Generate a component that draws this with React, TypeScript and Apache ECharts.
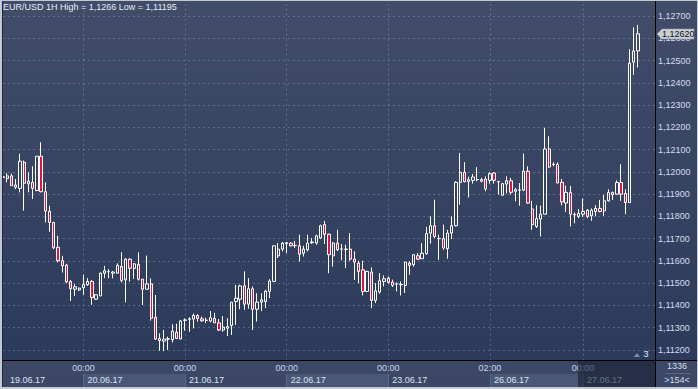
import React, { useEffect, useRef } from 'react';
import * as echarts from 'echarts';

// trading days: [date label, first hour, last hour]
const DAYS: [string, number, number][] = [
  ['19.06.17', 5, 23],
  ['20.06.17', 0, 23],
  ['21.06.17', 0, 23],
  ['22.06.17', 0, 23],
  ['23.06.17', 0, 23],
  ['26.06.17', 2, 23],
  ['27.06.17', 0, 13],
];
const EMPTY_SLOTS = 4; // chart shift on the right

const OPEN = [
  1.11978, 1.1197, 1.11982, 1.11931, 1.11926, 1.12043, 1.11946, 1.11953, 1.11916, 1.1207,
  1.11911, 1.11823, 1.11773, 1.11661, 1.11601, 1.11581, 1.11508, 1.11473, 1.1147, 1.1148,
  1.11493, 1.11508, 1.11428, 1.11443, 1.11545, 1.11552, 1.11545, 1.11545, 1.11575, 1.11515,
  1.11608, 1.11567, 1.11585, 1.11518, 1.11473, 1.11497, 1.11347, 1.11252, 1.1124, 1.11249,
  1.11247, 1.1128, 1.11249, 1.11333, 1.11338, 1.11339, 1.11355, 1.1134, 1.11333, 1.1133,
  1.11342, 1.11322, 1.1129, 1.11298, 1.1131, 1.11418, 1.11428, 1.11488, 1.11406, 1.11475,
  1.11383, 1.11415, 1.11418, 1.11463, 1.11508, 1.11623, 1.11653, 1.11678, 1.1168, 1.11669,
  1.11668, 1.11635, 1.1165, 1.11682, 1.1168, 1.11703, 1.11763, 1.1172, 1.11623, 1.1168,
  1.11653, 1.11653, 1.11653, 1.11608, 1.1159, 1.1156, 1.11463, 1.1155, 1.11423, 1.1146,
  1.11508, 1.11523, 1.11505, 1.11496, 1.11493, 1.1149, 1.1159, 1.11583, 1.11623, 1.1161,
  1.11633, 1.11725, 1.11758, 1.117, 1.117, 1.11655, 1.11725, 1.11758, 1.11953, 1.11998,
  1.11956, 1.11962, 1.11965, 1.11965, 1.11968, 1.11962, 1.11995, 1.11955, 1.11895, 1.11945,
  1.1196, 1.11913, 1.11918, 1.11918, 1.12003, 1.11833, 1.11755, 1.11788, 1.1181, 1.12103,
  1.12033, 1.12033, 1.11953, 1.1186, 1.11907, 1.11807, 1.118, 1.1181, 1.11828, 1.11803,
  1.11822, 1.11836, 1.11825, 1.1187, 1.11907, 1.119, 1.11952, 1.11903, 1.11862, 1.12493,
  1.12543,
];
const HIGH = [
  1.11985, 1.11994, 1.11992, 1.11968, 1.12081, 1.12051, 1.11998, 1.12025, 1.1207, 1.12133,
  1.11953, 1.11848, 1.11776, 1.11713, 1.11623, 1.11587, 1.11515, 1.11496, 1.1148, 1.11538,
  1.11523, 1.11515, 1.11451, 1.11548, 1.11578, 1.11563, 1.11555, 1.11589, 1.11639, 1.11612,
  1.11612, 1.1159, 1.11639, 1.11518, 1.11624, 1.11522, 1.11447, 1.11275, 1.1129, 1.1126,
  1.11315, 1.11318, 1.11335, 1.11342, 1.11347, 1.11364, 1.11361, 1.1135, 1.11345, 1.11375,
  1.11367, 1.11339, 1.11352, 1.11343, 1.11415, 1.11493, 1.11493, 1.11553, 1.11523, 1.11485,
  1.11455, 1.11455, 1.1147, 1.11518, 1.11668, 1.1168, 1.11685, 1.11685, 1.11685, 1.1169,
  1.11718, 1.11668, 1.11718, 1.11703, 1.11718, 1.11763, 1.1178, 1.11722, 1.11685, 1.1174,
  1.11676, 1.11673, 1.11725, 1.11643, 1.11601, 1.11601, 1.11556, 1.11571, 1.115, 1.11545,
  1.11535, 1.1153, 1.11516, 1.11503, 1.11508, 1.11595, 1.11598, 1.11628, 1.11635, 1.1168,
  1.11753, 1.118, 1.11875, 1.11718, 1.11763, 1.1174, 1.118, 1.11958, 1.12085, 1.12043,
  1.11978, 1.1199, 1.12021, 1.11973, 1.1198, 1.11998, 1.11998, 1.1196, 1.1195, 1.1198,
  1.11973, 1.11928, 1.1195, 1.12082, 1.12025, 1.1187, 1.1185, 1.11848, 1.12198, 1.1216,
  1.12043, 1.12043, 1.11968, 1.11938, 1.11937, 1.11818, 1.11833, 1.1188, 1.11833, 1.11836,
  1.1185, 1.11874, 1.11897, 1.11922, 1.11912, 1.11962, 1.12034, 1.11922, 1.12551, 1.12649,
  1.1266,
];
const LOW = [
  1.11972, 1.11953, 1.11938, 1.11923, 1.11908, 1.11826, 1.11908, 1.11878, 1.11913, 1.11908,
  1.11773, 1.11731, 1.11653, 1.11593, 1.11548, 1.115, 1.1142, 1.11443, 1.11465, 1.11448,
  1.11488, 1.11403, 1.11425, 1.11443, 1.11523, 1.11522, 1.11522, 1.11545, 1.11503, 1.11414,
  1.11507, 1.11519, 1.11512, 1.11402, 1.11473, 1.11332, 1.11245, 1.11197, 1.11195, 1.112,
  1.11234, 1.11249, 1.11249, 1.11287, 1.11282, 1.11297, 1.11327, 1.11327, 1.11321, 1.11324,
  1.11322, 1.11285, 1.11282, 1.11263, 1.11268, 1.11313, 1.11383, 1.1138, 1.11385, 1.1129,
  1.11328, 1.11375, 1.11388, 1.11433, 1.11508, 1.11613, 1.11643, 1.11635, 1.11665, 1.11658,
  1.11598, 1.1162, 1.11643, 1.11676, 1.11673, 1.11698, 1.11676, 1.11545, 1.11575, 1.11645,
  1.11603, 1.11568, 1.11601, 1.11515, 1.115, 1.11445, 1.1146, 1.11388, 1.11411, 1.11453,
  1.11486, 1.11498, 1.11483, 1.11463, 1.11445, 1.11456, 1.11538, 1.11575, 1.11605, 1.1161,
  1.11628, 1.11678, 1.11703, 1.11605, 1.1165, 1.1161, 1.11698, 1.11755, 1.11853, 1.11953,
  1.11885, 1.11947, 1.11958, 1.11953, 1.11913, 1.11947, 1.11947, 1.11898, 1.11893, 1.11902,
  1.11898, 1.11868, 1.11848, 1.11913, 1.11857, 1.1174, 1.11748, 1.1171, 1.1181, 1.12018,
  1.12025, 1.1195, 1.1185, 1.1182, 1.11755, 1.11769, 1.11792, 1.11798, 1.11792, 1.1178,
  1.118, 1.11818, 1.11803, 1.11867, 1.11874, 1.11897, 1.1187, 1.1181, 1.11862, 1.12436,
  1.12469,
];
const CLOSE = [
  1.11975, 1.11982, 1.11938, 1.11941, 1.12048, 1.11949, 1.11958, 1.11926, 1.1207, 1.11911,
  1.11824, 1.11773, 1.11659, 1.11601, 1.11578, 1.11506, 1.11476, 1.11484, 1.11478, 1.11495,
  1.11508, 1.11436, 1.11448, 1.11545, 1.11556, 1.11552, 1.1155, 1.1158, 1.11512, 1.11608,
  1.11567, 1.11587, 1.11518, 1.11473, 1.11497, 1.11342, 1.11249, 1.11242, 1.11249, 1.1125,
  1.11285, 1.11252, 1.1133, 1.11335, 1.1134, 1.11355, 1.11342, 1.11331, 1.11334, 1.11345,
  1.11322, 1.1129, 1.11303, 1.11305, 1.11415, 1.11433, 1.11488, 1.11406, 1.11475, 1.11383,
  1.11415, 1.11425, 1.11465, 1.1151, 1.11668, 1.11653, 1.1168, 1.11682, 1.11668, 1.1167,
  1.1163, 1.11653, 1.1168, 1.11685, 1.11713, 1.11758, 1.1172, 1.11628, 1.1168, 1.1165,
  1.11654, 1.11652, 1.11608, 1.11595, 1.11553, 1.11463, 1.11553, 1.11423, 1.11466, 1.11511,
  1.1152, 1.11504, 1.1149, 1.11497, 1.11495, 1.11595, 1.1158, 1.11628, 1.11608, 1.11635,
  1.11723, 1.11758, 1.1171, 1.11701, 1.11658, 1.11725, 1.11758, 1.11953, 1.11998, 1.11956,
  1.11965, 1.11977, 1.11966, 1.11958, 1.11923, 1.11992, 1.11962, 1.11956, 1.11947, 1.1196,
  1.11908, 1.1192, 1.11919, 1.12003, 1.1186, 1.11763, 1.1179, 1.1181, 1.12103, 1.12022,
  1.12034, 1.1195, 1.11865, 1.11908, 1.1181, 1.11808, 1.11813, 1.11822, 1.118, 1.11828,
  1.11836, 1.11822, 1.1187, 1.11907, 1.11897, 1.11952, 1.119, 1.11862, 1.12488, 1.12543,
  1.1262,
];

const Y_MIN = 1.111;
const Y_MAX = 1.128;
const Y_STEP = 0.001;

const FONT = '"Liberation Sans", Arial, sans-serif';

function buildCategories() {
  const cats: string[] = [];
  const dayStarts: number[] = [];
  DAYS.forEach(([d, h0, h1]) => {
    dayStarts.push(cats.length);
    for (let h = h0; h <= h1; h++) {
      cats.push(`${d} ${String(h).padStart(2, '0')}:00`);
    }
  });
  for (let i = 0; i < EMPTY_SLOTS; i++) cats.push('');
  return { cats, dayStarts };
}

const fmtPrice = (v: number) => String(parseFloat(v.toFixed(5))).replace('.', ',');

export default function App() {
  const ref = useRef<HTMLDivElement>(null);

  useEffect(() => {
    const el = ref.current!;
    const chart = echarts.init(el, null, { renderer: 'svg' });
    const { cats, dayStarts } = buildCategories();
    const startSet = new Set(dayStarts);
    const timeSet = new Set(dayStarts.slice(1));
    const hi = Math.max(...HIGH);
    const lo = Math.min(...LOW);
    const gridColor = 'rgba(140,155,185,0.45)';

    const option: any = {
      animation: false,
      backgroundColor: new echarts.graphic.LinearGradient(0, 0, 0, 1, [
        { offset: 0, color: '#414d69' },
        { offset: 0.93, color: '#2c3a5b' },
        { offset: 1, color: '#2c3a5b' },
      ]),
      title: {
        text: `EUR/USD 1H High = ${fmtPrice(hi)} Low = ${fmtPrice(lo)}`,
        left: 3,
        top: 2,
        padding: 0,
        textStyle: { color: '#e6ecf6', fontSize: 9, fontWeight: 'normal', fontFamily: FONT },
      },
      grid: [
        { left: 3, right: 43, top: -6.27, bottom: 16.73, outerBoundsMode: 'none', containLabel: false },
        { left: 3, right: 43, top: 374, height: 13, outerBoundsMode: 'none', containLabel: false },
      ],
      xAxis: [
        {
          type: 'category', gridIndex: 0, data: cats, boundaryGap: false, z: 0,
          axisLine: { show: false }, axisTick: { show: false }, axisLabel: { show: false },
          splitLine: {
            show: true,
            interval: (i: number) => timeSet.has(i),
            lineStyle: { color: gridColor, type: [2, 3], width: 1 },
          },
        },
        {
          type: 'category', gridIndex: 1, data: cats, boundaryGap: false, position: 'top', z: 10,
          axisLine: { show: false }, axisTick: { show: false },
          splitArea: {
            show: true,
            interval: (i: number) => startSet.has(i),
            areaStyle: { color: ['#3b4765', '#4a5777'] },
          },
          splitLine: {
            show: true,
            interval: (i: number) => timeSet.has(i),
            lineStyle: { color: '#5a6785', width: 1 },
          },
          axisLabel: {
            show: true, inside: true, margin: 1,
            interval: (i: number) => startSet.has(i),
            formatter: (v: string, i: number) => (i === 0 ? `{f|${v.split(' ')[0]}}` : `{d|${v.split(' ')[0]}}`),
            align: 'left',
            rich: {
              f: { color: '#dbe4f2', fontSize: 9, fontFamily: FONT, padding: [0, 0, 0, 7] },
              d: { color: '#dbe4f2', fontSize: 9, fontFamily: FONT, padding: [0, 0, 0, 4] },
            },
          },
        },
        {
          type: 'category', gridIndex: 0, data: cats, boundaryGap: false, position: 'bottom',
          offset: -12.27, z: 10,
          axisLine: { show: true, lineStyle: { color: '#000000', width: 1 } },
          axisTick: { show: false },
          splitLine: { show: false },
          axisLabel: {
            show: true, margin: 3,
            interval: (i: number) => timeSet.has(i),
            formatter: (v: string) => v.split(' ')[1],
            color: '#c9d6ec', fontSize: 9, fontFamily: FONT,
          },
        },
      ],
      yAxis: [
        {
          type: 'value', gridIndex: 0, position: 'right', min: Y_MIN, max: Y_MAX, interval: Y_STEP, scale: true,
          axisLine: { show: true, lineStyle: { color: '#000000', width: 1 } },
          axisTick: { show: false },
          splitLine: { show: true, showMinLine: false, showMaxLine: false, lineStyle: { color: gridColor, type: [2, 3], width: 1 } },
          axisLabel: {
            show: true, margin: 3, showMinLabel: false, showMaxLabel: false,
            formatter: (v: number) => v.toFixed(5).replace('.', ','),
            color: '#d3def0', fontSize: 9, fontFamily: FONT,
          },
        },
        { type: 'value', gridIndex: 1, show: false },
      ],
      series: [
        {
          type: 'candlestick',
          xAxisIndex: 0,
          yAxisIndex: 0,
          data: OPEN.map((o, i) => [o, CLOSE[i], LOW[i], HIGH[i]]),
          barWidth: 2.8,
          itemStyle: {
            color: 'rgba(0,0,0,0)',
            color0: '#e3123c',
            borderColor: '#ffffff',
            borderColor0: '#ffffff',
            borderColorDoji: '#ffffff',
            borderWidth: 1,
          },
          emphasis: { disabled: true },
          silent: true,
        },
      ],
    };

    chart.setOption(option);

    const last = CLOSE[CLOSE.length - 1];
    const py = Math.round(chart.convertToPixel({ yAxisIndex: 0 }, last) as number);

    const txt = (text: string, x: number, y: number, fill: string, z = 25, align = 'center') => ({
      type: 'text', z, style: { text, x, y, fill, fontSize: 9, fontFamily: FONT, align, verticalAlign: 'middle' },
    });

    chart.setOption({
      graphic: [
        // bottom time/date band & right info box
        { type: 'rect', z: 5, shape: { x: 3, y: 361, width: 652, height: 26 }, style: { fill: '#3c4866' } },
        { type: 'rect', z: 5, shape: { x: 656, y: 361, width: 41, height: 26 }, style: { fill: '#3c4866' } },
        { type: 'rect', z: 6, shape: { x: 655, y: 360, width: 1, height: 27 }, style: { fill: '#000000' } },
        { type: 'rect', z: 6, shape: { x: 655, y: 360, width: 42, height: 1 }, style: { fill: '#000000' } },
        // dimmed region at the right of the time scale
        { type: 'rect', z: 20, shape: { x: 578, y: 361, width: 77, height: 26 }, style: { fill: 'rgba(24,31,50,0.6)' } },
        txt('1336', 677, 366, '#d3def0'),
        { type: 'rect', z: 25, shape: { x: 665, y: 373, width: 25, height: 1 }, style: { fill: '#5d6880' } },
        txt('>154<', 677, 380, '#d3def0'),
        // small marker in plot corner
        { type: 'polygon', z: 25, shape: { points: [[634, 357], [640, 357], [637, 353]] }, style: { fill: '#7f8ca6' } },
        txt('3', 646, 354, '#e6ecf6'),
        // last price tag
        {
          type: 'polygon', z: 25,
          shape: { points: [[657, py], [662, py - 5], [694, py - 5], [694, py + 5], [662, py + 5]] },
          style: { fill: '#c9cdd4', stroke: '#9aa2b0', lineWidth: 0.5 },
        },
        txt(last.toFixed(5).replace('.', ','), 662, py, '#111111', 26, 'left'),
        // outer frame
        { type: 'rect', z: 30, shape: { x: 0, y: 0, width: 2, height: 389 }, style: { fill: '#c4c8d0' } },
        { type: 'rect', z: 30, shape: { x: 0, y: 0, width: 698, height: 1 }, style: { fill: '#c4c8d0' } },
        { type: 'rect', z: 30, shape: { x: 0, y: 387, width: 698, height: 2 }, style: { fill: '#c4c8d0' } },
        { type: 'rect', z: 30, shape: { x: 697, y: 0, width: 1, height: 389 }, style: { fill: '#c4c8d0' } },
        { type: 'rect', z: 30, shape: { x: 2, y: 1, width: 1, height: 386 }, style: { fill: '#1e2740' } },
      ],
    });

    return () => chart.dispose();
  }, []);

  return <div ref={ref} style={{ position: 'absolute', left: 0, top: 0, width: 698, height: 389 }} />;
}
